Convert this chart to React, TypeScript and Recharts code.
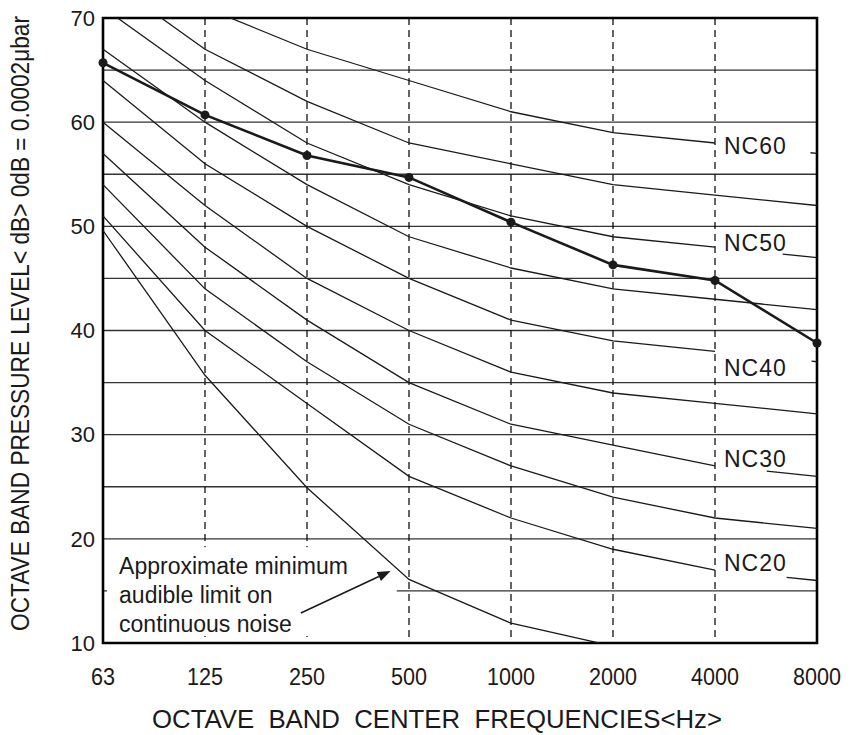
import {
  LineChart,
  Line,
  XAxis,
  YAxis,
  CartesianGrid,
  ReferenceArea,
  ReferenceDot,
  ReferenceLine,
} from "recharts";

// octave band centre frequencies (Hz)
const FREQS = ["63", "125", "250", "500", "1000", "2000", "4000", "8000"];

// NC curves, dB per band
const NC20 = [51, 40, 33, 26, 22, 19, 17, 16];
const NC25 = [54, 44, 37, 31, 27, 24, 22, 21];
const NC30 = [57, 48, 41, 35, 31, 29, 27, 26];
const NC35 = [60, 52, 45, 40, 36, 34, 33, 32];
const NC40 = [64, 56, 50, 45, 41, 39, 38, 37];
const NC45 = [67, 60, 54, 49, 46, 44, 43, 42];
const NC50 = [71, 64, 58, 54, 51, 49, 48, 47];
const NC55 = [74, 67, 62, 58, 56, 54, 53, 52];
const NC60 = [77, 71, 67, 64, 61, 59, 58, 57];

// approximate minimum audible limit on continuous noise
const AUDIBLE = [49.6, 35.7, 24.9, 16.1, 11.9, 9.7, null, null];

// measured spectrum
const MEASURED = [65.7, 60.7, 56.8, 54.7, 50.4, 46.3, 44.8, 38.8];

const Y_TICKS = [10, 15, 20, 25, 30, 35, 40, 45, 50, 55, 60, 65, 70];
const NOTE_LINES = ["Approximate minimum", "audible limit on", "continuous noise"];

const FONT = "'Liberation Sans', Arial, Helvetica, sans-serif";
const INK = "#1a1a1a";

// curves that carry a label between 4000 and 8000 Hz
const LABELLED = [
  { key: "nc60", name: "NC60", values: NC60, labelDb: 57.7, gap: 96 },
  { key: "nc50", name: "NC50", values: NC50, labelDb: 48.4, gap: 68 },
  { key: "nc40", name: "NC40", values: NC40, labelDb: 36.45, gap: 97 },
  { key: "nc30", name: "NC30", values: NC30, labelDb: 27.7, gap: 52 },
  { key: "nc20", name: "NC20", values: NC20, labelDb: 17.65, gap: 72 },
];
const PLAIN = [
  { key: "nc55", values: NC55 },
  { key: "nc45", values: NC45 },
  { key: "nc35", values: NC35 },
  { key: "nc25", values: NC25 },
];

const rows = FREQS.map((f, i) => {
  const row: Record<string, any> = { i, freq: f, audible: AUDIBLE[i], measured: MEASURED[i] };
  LABELLED.forEach((c) => {
    row[c.key] = i < 7 ? c.values[i] : null;
    row[c.key + "Tail"] = i >= 6 ? c.values[i] : null;
  });
  PLAIN.forEach((c) => {
    row[c.key] = c.values[i];
  });
  return row;
});

const YTitle = (props: any) => {
  const vb = props.viewBox || { x: 0, y: 18, width: 103, height: 625 };
  const cx = vb.x + 29;
  const cy = vb.y + vb.height / 2 - 7;
  // narrow lettering: squeeze along the reading direction
  return (
    <text
      transform={`translate(${cx}, ${cy}) rotate(-90) scale(0.89, 1)`}
      textAnchor="middle"
      fill={INK}
      fontSize={25}
      fontFamily={FONT}
      textLength={691}
      lengthAdjust="spacingAndGlyphs"
    >
      OCTAVE BAND PRESSURE LEVEL&lt; dB&gt; 0dB = 0.0002μbar
    </text>
  );
};

const XTitle = (props: any) => {
  const vb = props.viewBox || { x: 103, y: 643, width: 714, height: 92 };
  return (
    <text
      x={vb.x + vb.width / 2 - 23}
      y={vb.y + 85}
      textAnchor="middle"
      fill={INK}
      fontSize={25}
      fontFamily={FONT}
      textLength={570}
      lengthAdjust="spacingAndGlyphs"
      style={{ whiteSpace: "pre" }}
    >
      {"OCTAVE  BAND  CENTER  FREQUENCIES<Hz>"}
    </text>
  );
};

const XTick = (props: any) => {
  const { x, y, payload } = props;
  const label = FREQS[payload.value] ?? "";
  return (
    <text
      x={x}
      y={y + 18}
      textAnchor="middle"
      fill={INK}
      fontSize={24}
      fontFamily={FONT}
      textLength={label.length * 12}
      lengthAdjust="spacingAndGlyphs"
    >
      {label}
    </text>
  );
};

const NoteText = (props: any) => {
  const vb = props.viewBox;
  const x = vb.x + 12;
  return (
    <text x={x} y={vb.y + 27} fill={INK} fontSize={23} fontFamily={FONT}>
      {NOTE_LINES.map((t, k) => (
        <tspan key={k} x={x} dy={k === 0 ? 0 : 29}>
          {t}
        </tspan>
      ))}
    </text>
  );
};

const Arrow = (props: any) => {
  const { x1, y1, x2, y2 } = props;
  const len = Math.hypot(x2 - x1, y2 - y1) || 1;
  const ux = (x2 - x1) / len;
  const uy = (y2 - y1) / len;
  const bx = x2 - ux * 13;
  const by = y2 - uy * 13;
  const head = `${x2},${y2} ${bx - uy * 5},${by + ux * 5} ${bx + uy * 5},${by - ux * 5}`;
  return (
    <g>
      <line x1={x1} y1={y1} x2={bx} y2={by} stroke={INK} strokeWidth={1.5} />
      <polygon points={head} fill={INK} />
    </g>
  );
};

const NoteBox = (props: any) => {
  const { x, y, width, height } = props;
  return <rect x={x} y={y} width={width} height={height} fill="#fff" stroke="none" />;
};

export default function App() {
  return (
    <div style={{ width: 862, height: 735, background: "#fff" }}>
      <style>{"body{margin:0;background:#fff}"}</style>
      <LineChart
        width={862}
        height={735}
        data={rows}
        margin={{ top: 18, right: 45, bottom: 0, left: 0 }}
      >
        <CartesianGrid horizontal vertical={false} stroke="#333" strokeWidth={1.3} />
        <CartesianGrid
          horizontal={false}
          vertical
          stroke="#111"
          strokeWidth={1.3}
          strokeDasharray="7 5"
        />
        <XAxis
          dataKey="i"
          type="number"
          domain={[0, 7]}
          ticks={[0, 1, 2, 3, 4, 5, 6, 7]}
          interval={0}
          height={92}
          tickLine={false}
          axisLine={false}
          tickSize={0}
          tickMargin={24}
          tick={(p: any) => <XTick {...p} />}
          label={(p: any) => <XTitle {...p} />}
        />
        <YAxis
          type="number"
          domain={[10, 70]}
          allowDataOverflow
          ticks={Y_TICKS}
          interval={0}
          tickFormatter={(v: number) => (v % 10 === 0 ? String(v) : "")}
          width={103}
          tickLine={false}
          axisLine={false}
          tickSize={0}
          tickMargin={8}
          tick={{ fill: INK, fontSize: 22, fontFamily: FONT }}
          label={(p: any) => <YTitle {...p} />}
        />

        <ReferenceArea
          x1={0.04}
          x2={2.88}
          y1={10.67}
          y2={19.2}
          shape={(p: any) => <NoteBox {...p} />}
          label={(p: any) => <NoteText {...p} />}
          ifOverflow="visible"
        />

        {PLAIN.map((c) => (
          <Line
            key={c.key}
            dataKey={c.key}
            type="linear"
            stroke={INK}
            strokeWidth={1.3}
            dot={false}
            activeDot={false}
            isAnimationActive={false}
          />
        ))}
        {LABELLED.map((c) => (
          <Line
            key={c.key}
            dataKey={c.key}
            type="linear"
            stroke={INK}
            strokeWidth={1.3}
            dot={false}
            activeDot={false}
            isAnimationActive={false}
          />
        ))}
        {LABELLED.map((c) => (
          <Line
            key={c.key + "Tail"}
            dataKey={c.key + "Tail"}
            type="linear"
            stroke={INK}
            strokeWidth={1.3}
            strokeDasharray={`0 ${c.gap} 300`}
            dot={false}
            activeDot={false}
            isAnimationActive={false}
          />
        ))}
        <Line
          dataKey="audible"
          type="linear"
          stroke={INK}
          strokeWidth={1.3}
          dot={false}
          activeDot={false}
          isAnimationActive={false}
        />

        {LABELLED.map((c) => (
          <ReferenceDot
            key={c.name}
            x={6}
            y={c.labelDb}
            r={0}
            stroke="none"
            fill="none"
            label={{
              value: c.name,
              position: "right",
              offset: 9,
              fill: INK,
              fontSize: 23,
              fontFamily: FONT,
              letterSpacing: 1,
            }}
          />
        ))}

        <ReferenceLine
          segment={[
            { x: 1.94, y: 12.88 },
            { x: 2.82, y: 16.91 },
          ]}
          shape={(p: any) => <Arrow {...p} />}
        />

        <Line
          dataKey="measured"
          type="linear"
          stroke={INK}
          strokeWidth={2.6}
          dot={{ r: 4.5, fill: INK, stroke: INK, strokeWidth: 0 }}
          activeDot={false}
          isAnimationActive={false}
        />

        <ReferenceArea
          x1={0}
          x2={7}
          y1={10}
          y2={70}
          fill="none"
          fillOpacity={0}
          stroke="#000"
          strokeWidth={2.6}
          ifOverflow="visible"
        />
      </LineChart>
    </div>
  );
}
